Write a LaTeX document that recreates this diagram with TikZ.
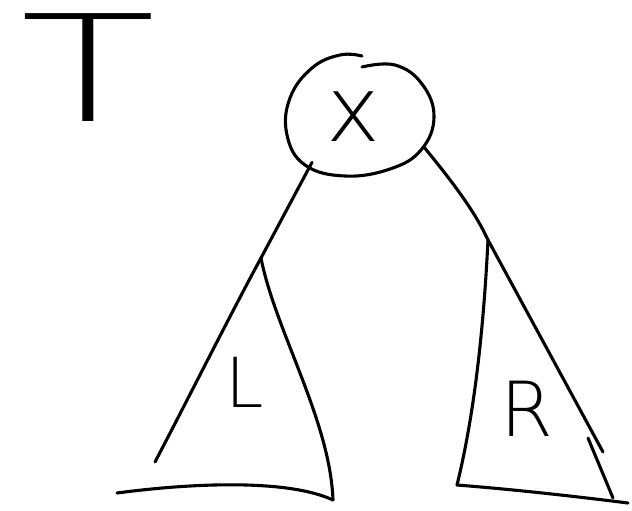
\documentclass[tikz,border=0pt]{standalone}
\usepackage{fontspec}
\usetikzlibrary{shapes.geometric}
\newfontfamily\handfont{DejaVu Sans ExtraLight}
\begin{document}
\begin{tikzpicture}[x=1pt,y=-1pt,
  stroke/.style={line width=3.1pt, line cap=round, line join=round},
  lbl/.style={inner sep=0pt, outer sep=0pt}]
\useasboundingbox (0,0) rectangle (632,511);
% title letter
\node[lbl, xscale=1.5, font={\handfont\fontsize{148}{148}\selectfont}] (title) at (88,68) {T};
% root node
\node[ellipse, minimum width=150pt, minimum height=120pt, inner sep=0pt] (root) at (360,116) {};
\node[lbl, font={\handfont\fontsize{91}{91}\selectfont}] (xlab) at (353,117) {x};
\draw[stroke] plot[smooth, tension=0.7] coordinates {(362,67) (395,65) (422,84) (434,117) (421,150) (390,169) (345,176) (305,165) (287,135) (290,98) (312,68) (340,55) (362,56)};
% subtree apexes
\coordinate (apL) at (261,258);
\coordinate (apR) at (488,240);
\coordinate (baseL1) at (117,493);
\coordinate (baseL2) at (333,500);
\coordinate (leftL) at (155,462);
\coordinate (baseR1) at (457,485);
\coordinate (baseR2) at (628,503);
\coordinate (outR) at (603,452);
\coordinate (tick1) at (588,438);
\coordinate (tick2) at (613,498);
% connectors
\draw[stroke] (root.-136) -- (apL);
\draw[stroke] (root.-26) .. controls (455,185) and (475,212) .. (apR);
% left subtree
\draw[stroke] (apL) .. controls (230,315) and (185,405) .. (leftL);
\draw[stroke] (apL) .. controls (275,330) and (330,420) .. (baseL2);
\draw[stroke] (baseL1) .. controls (200,482) and (290,480) .. (baseL2);
\node[lbl, font={\handfont\fontsize{69}{69}\selectfont}] (Llab) at (245,382) {L};
% right subtree
\draw[stroke] (apR) -- (outR);
\draw[stroke] (tick1) -- (tick2);
\draw[stroke] (apR) .. controls (485,300) and (478,400) .. (baseR1);
\draw[stroke] (baseR1) .. controls (520,490) and (580,497) .. (baseR2);
\node[lbl, font={\handfont\fontsize{76}{76}\selectfont}] (Rlab) at (527,409) {R};
\end{tikzpicture}
\end{document}
